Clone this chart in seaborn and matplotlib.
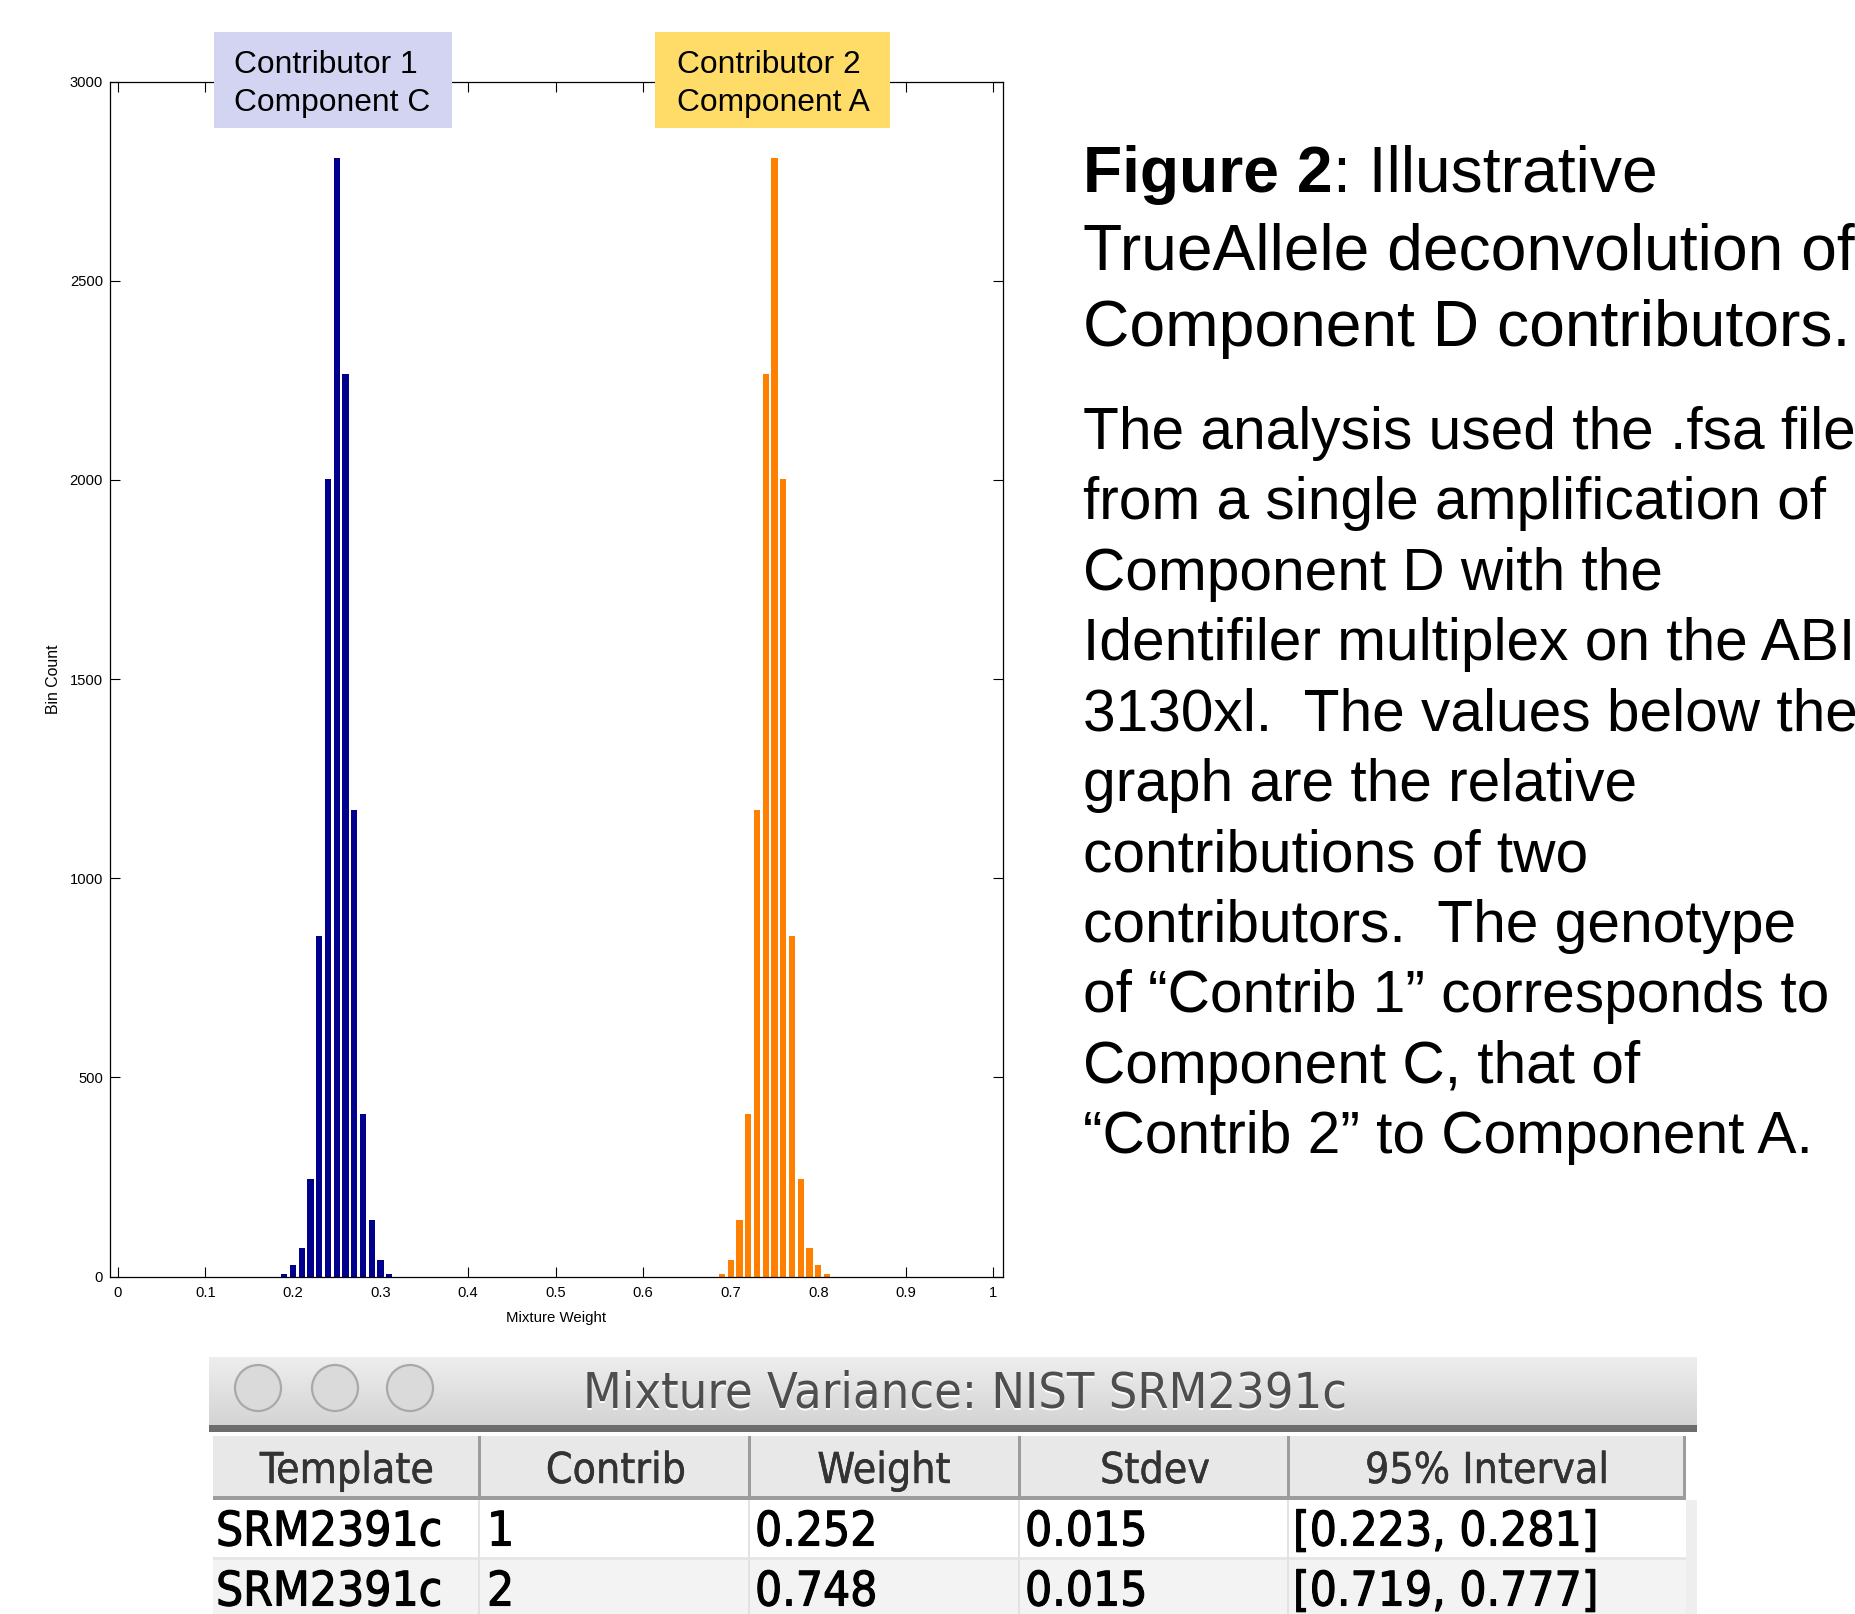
import numpy as np
import pandas as pd
import matplotlib
matplotlib.use("Agg")
import matplotlib.pyplot as plt
import matplotlib.patheffects as pe
import seaborn as sns
from matplotlib.patches import Rectangle, Circle
from matplotlib.font_manager import FontProperties, fontManager

# ---------------- data ----------------
contrib1_weight = [0.19, 0.20, 0.21, 0.22, 0.23, 0.24, 0.25, 0.26, 0.27, 0.28, 0.29, 0.30, 0.31]
contrib1_count = [7, 28, 72, 245, 855, 2003, 2808, 2267, 1170, 408, 143, 41, 6]
contrib2_weight = [0.69, 0.70, 0.71, 0.72, 0.73, 0.74, 0.75, 0.76, 0.77, 0.78, 0.79, 0.80, 0.81]
contrib2_count = [6, 41, 143, 408, 1170, 2267, 2808, 2003, 855, 245, 72, 28, 6]

x_ticks = [0, 0.1, 0.2, 0.3, 0.4, 0.5, 0.6, 0.7, 0.8, 0.9, 1.0]
x_tick_labels = ["0", "0.1", "0.2", "0.3", "0.4", "0.5", "0.6", "0.7", "0.8", "0.9", "1"]
y_ticks = [0, 500, 1000, 1500, 2000, 2500, 3000]
y_tick_labels = ["0", "500", "1000", "1500", "2000", "2500", "3000"]
x_label = "Mixture Weight"
y_label = "Bin Count"

box1_lines = ["Contributor 1", "Component C"]
box2_lines = ["Contributor 2", "Component A"]

caption_bold = "Figure 2"
caption_rest = ": Illustrative"
caption_lines = ["TrueAllele deconvolution of", "Component D contributors."]
paragraph_lines = [
    "The analysis used the .fsa file",
    "from a single amplification of",
    "Component D with the",
    "Identifiler multiplex on the ABI",
    "3130xl.  The values below the",
    "graph are the relative",
    "contributions of two",
    "contributors.  The genotype",
    "of \u201cContrib 1\u201d corresponds to",
    "Component C, that of",
    "\u201cContrib 2\u201d to Component A.",
]

table_title = "Mixture Variance: NIST SRM2391c"
table_headers = ["Template", "Contrib", "Weight", "Stdev", "95% Interval"]
table_template = ["SRM2391c", "SRM2391c"]
table_contrib = ["1", "2"]
table_weight = ["0.252", "0.748"]
table_stdev = ["0.015", "0.015"]
table_interval = ["[0.223, 0.281]", "[0.719, 0.777]"]

BLUE = "#00008C"
ORANGE = "#FF8000"

# ---------------- fonts ----------------
sns.set_theme(style="white")
names = {f.name for f in fontManager.ttflist}
cond_dejavu = any(f.name == "DejaVu Sans" and f.stretch == "condensed" for f in fontManager.ttflist)


def pick(*cands):
    for c in cands:
        if c in names:
            return c
    return "DejaVu Sans"


MAIN = pick("Liberation Sans", "Arial", "DejaVu Sans")
NARROW = pick("Liberation Sans Narrow", "Liberation Sans")
plt.rcParams["font.family"] = [MAIN, "DejaVu Sans"]


def main_fp(size, weight="normal"):
    return FontProperties(family=[MAIN, "DejaVu Sans"], size=size, weight=weight)


def narrow_fp(size, weight="normal"):
    return FontProperties(family=[NARROW, "DejaVu Sans"], size=size, weight=weight)


def ui_fp(size, weight="normal"):
    if "DejaVu Sans Condensed" in names:
        return FontProperties(family="DejaVu Sans Condensed", size=size, weight=weight)
    if cond_dejavu:
        return FontProperties(family="DejaVu Sans", stretch="condensed", size=size, weight=weight)
    if "Liberation Sans Narrow" in names:
        return FontProperties(family="Liberation Sans Narrow", size=size, weight=weight)
    return FontProperties(family="DejaVu Sans", size=size, weight=weight)


W, H = 1855, 1614
fig = plt.figure(figsize=(W / 100, H / 100), dpi=100)
fig.patch.set_facecolor("white")
renderer = fig.canvas.get_renderer()


def text_w(s, fp):
    w, h, d = renderer.get_text_width_height_descent(s, fp, ismath=False)
    return w


def fit(s, maker, target, weight="normal"):
    return 20.0 * target / text_w(s, maker(20, weight))


# ---------------- histogram ----------------
ax = fig.add_axes([110 / W, 1 - 1276.5 / H, (1003 - 110) / W, (1276.5 - 81.6) / H])
ax.set_facecolor("white")
df1 = pd.DataFrame({"weight": contrib1_weight, "count": contrib1_count})
df2 = pd.DataFrame({"weight": contrib2_weight, "count": contrib2_count})
sns.barplot(data=df1, x="weight", y="count", native_scale=True, width=0.72,
            color=BLUE, saturation=1, errorbar=None, linewidth=0, ax=ax)
sns.barplot(data=df2, x="weight", y="count", native_scale=True, width=0.72,
            color=ORANGE, saturation=1, errorbar=None, linewidth=0, ax=ax)

ax.set_xlim(-0.009, 1.011)
ax.set_ylim(0, 3000)
tick_size = fit("1500", narrow_fp, 33)
ax.set_xticks(x_ticks)
ax.set_xticklabels(x_tick_labels, fontproperties=narrow_fp(tick_size))
ax.set_yticks(y_ticks)
ax.set_yticklabels(y_tick_labels, fontproperties=narrow_fp(tick_size))
ax.tick_params(axis="both", which="major", direction="in", length=7, width=0.8,
               top=True, right=True, bottom=True, left=True, colors="black")
ax.tick_params(axis="x", pad=7)
ax.tick_params(axis="y", pad=5)
for s in ax.spines.values():
    s.set_color("black")
    s.set_linewidth(0.9)
    s.set_visible(True)
lab_size = fit(x_label, narrow_fp, 100)
ax.set_xlabel(x_label, fontproperties=narrow_fp(lab_size), labelpad=8, color="black")
ax.set_ylabel(y_label, fontproperties=narrow_fp(lab_size * 1.05), labelpad=6, color="black")
ax.grid(False)

# ---------------- overlay (pixel coordinates) ----------------
ov = fig.add_axes([0, 0, 1, 1], zorder=10)
ov.set_xlim(0, W)
ov.set_ylim(H, 0)
ov.axis("off")

# contributor boxes
ov.add_patch(Rectangle((214, 32), 238, 96, fc="#D3D3F2", ec="none"))
ov.add_patch(Rectangle((655, 32), 235, 96, fc="#FFDC68", ec="none"))
box_size = fit("Component C", main_fp, 195)
for i, t in enumerate(box1_lines):
    ov.text(234, 73 + i * 38, t, fontproperties=main_fp(box_size), va="baseline", ha="left", color="black")
for i, t in enumerate(box2_lines):
    ov.text(677, 73 + i * 38, t, fontproperties=main_fp(box_size), va="baseline", ha="left", color="black")

# caption
cap_size = fit(caption_lines[1], main_fp, 764)
x0 = 1083
ov.text(x0, 192, caption_bold, fontproperties=main_fp(cap_size, "bold"), va="baseline", ha="left", color="black")
wb = text_w(caption_bold, main_fp(cap_size, "bold"))
ov.text(x0 + wb, 192, caption_rest, fontproperties=main_fp(cap_size), va="baseline", ha="left", color="black")
for i, t in enumerate(caption_lines):
    ov.text(x0, 269 + i * 77, t, fontproperties=main_fp(cap_size), va="baseline", ha="left", color="black")

para_size = fit(paragraph_lines[1], main_fp, 742)
for i, t in enumerate(paragraph_lines):
    ov.text(x0, 449 + i * 70.4, t, fontproperties=main_fp(para_size), va="baseline", ha="left", color="black")

# ---------------- table window ----------------
bx0, bx1 = 209, 1697
ty0, ty1 = 1357, 1425
n = 34
c_top = np.array([0.93, 0.93, 0.93])
c_bot = np.array([0.83, 0.83, 0.83])
for i in range(n):
    f = i / (n - 1)
    col = c_top * (1 - f) + c_bot * f
    ov.add_patch(Rectangle((bx0, ty0 + i * (ty1 - ty0) / n), bx1 - bx0, (ty1 - ty0) / n + 0.6,
                           fc=col, ec="none"))
ov.add_patch(Rectangle((bx0, 1425), bx1 - bx0, 7, fc="#6C6C6C", ec="none"))
for cx in [258, 335, 410]:
    ov.add_patch(Circle((cx, 1388), 23, fc="#DADADA", ec="#A9A9A9", lw=1.6))

title_size = fit(table_title, ui_fp, 763)
ov.text(965, 1395, table_title, fontproperties=ui_fp(title_size), ha="center", va="center", color="white")
ov.text(965, 1393, table_title, fontproperties=ui_fp(title_size), ha="center", va="center", color="#4E4E4E")

# header row
hx0, hx1 = 213, 1686
ov.add_patch(Rectangle((hx0, 1436), hx1 - hx0, 61, fc="#E8E8E8", ec="none"))
ov.add_patch(Rectangle((hx0, 1496), hx1 - hx0, 4, fc="#9C9C9C", ec="none"))
col_lines = [479, 749, 1019, 1288]
for cxl in col_lines:
    ov.add_patch(Rectangle((cxl - 1.5, 1436), 3, 61, fc="#9C9C9C", ec="none"))
ov.add_patch(Rectangle((hx1 - 3, 1436), 3, 64, fc="#9C9C9C", ec="none"))

head_size = fit(table_headers[0], ui_fp, 174)
head_centers = [347, 616, 884, 1155, 1487]
for hc, t in zip(head_centers, table_headers):
    ov.text(hc, 1471, t, fontproperties=ui_fp(head_size), ha="center", va="center", color="#333333",
            path_effects=[pe.withStroke(linewidth=0.3, foreground="#333333")])

# data rows
ov.add_patch(Rectangle((hx0, 1500), hx1 - hx0, 57, fc="white", ec="none"))
ov.add_patch(Rectangle((hx0, 1557), hx1 - hx0, 3, fc="#E6E6E6", ec="none"))
ov.add_patch(Rectangle((hx0, 1560), hx1 - hx0, 60, fc="#F3F3F3", ec="none"))
ov.add_patch(Rectangle((hx1, 1500), bx1 - hx1, 120, fc="#EEEEEE", ec="none"))
for cxl in col_lines:
    ov.add_patch(Rectangle((cxl - 1, 1500), 2, 120, fc="#E2E2E2", ec="none"))

row_size = fit(table_template[0], ui_fp, 226)
col_lefts = [216, 487, 755, 1025, 1293]
row_centers = [1532, 1592]
columns = [table_template, table_contrib, table_weight, table_stdev, table_interval]
for ci, colvals in enumerate(columns):
    for ri, v in enumerate(colvals):
        ov.text(col_lefts[ci], row_centers[ri], v, fontproperties=ui_fp(row_size),
                ha="left", va="center", color="black",
                path_effects=[pe.withStroke(linewidth=0.8, foreground="black")])

fig.savefig("out.png", dpi=100, facecolor="white")
